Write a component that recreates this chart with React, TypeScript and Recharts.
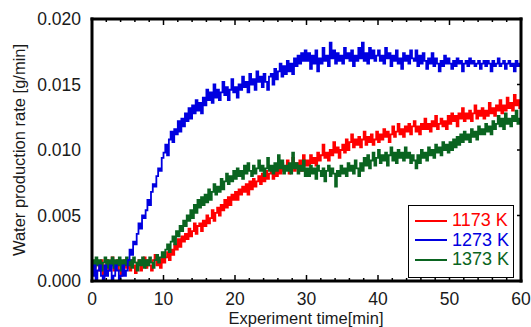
import React from "react";
import { LineChart, Line, XAxis, YAxis, Legend } from "recharts";

// logger sampled every 0.25 min, 0..60
const STEP_MIN = 0.25;

const rate1173 = [
  0.0012, 0.0008, 0.0016, 0.0012, 0.0008, 0.0016, 0.0004, 0.0012, 0.0016, 0.0008, 0.0012, 0.0018, 0.0008, 0.0012, 0.0016, 0.0008, 0.0004, 0.0012, 0.0016, 0.001,
  0.0012, 0.0008, 0.0016, 0.0012, 0.0006, 0.0014, 0.0016, 0.0008, 0.0012, 0.0018, 0.001, 0.0016, 0.0012, 0.0008, 0.0016, 0.002, 0.0012, 0.0016, 0.001, 0.0018,
  0.0014, 0.0018, 0.0022, 0.0016, 0.0024, 0.002, 0.0028, 0.0024, 0.0032, 0.0026, 0.0034, 0.003, 0.0036, 0.0032, 0.004, 0.0034, 0.0038, 0.0044, 0.0036, 0.0042,
  0.0044, 0.0038, 0.0046, 0.0042, 0.005, 0.0044, 0.0048, 0.0054, 0.0046, 0.0052, 0.0056, 0.005, 0.0058, 0.0054, 0.0062, 0.0056, 0.0064, 0.0058, 0.0066, 0.0062,
  0.0068, 0.0062, 0.007, 0.0066, 0.0072, 0.0068, 0.0074, 0.0066, 0.0076, 0.007, 0.0078, 0.0072, 0.0076, 0.008, 0.0074, 0.0082, 0.0076, 0.0084, 0.0078, 0.0082,
  0.0086, 0.0078, 0.0084, 0.008, 0.0088, 0.0082, 0.009, 0.0084, 0.0086, 0.0092, 0.0082, 0.0088, 0.0094, 0.0084, 0.009, 0.0086, 0.0092, 0.0084, 0.0096, 0.0088,
  0.0092, 0.0088, 0.0096, 0.009, 0.0094, 0.0088, 0.0098, 0.0092, 0.0096, 0.0104, 0.0094, 0.0098, 0.0092, 0.01, 0.0096, 0.0106, 0.0098, 0.0102, 0.0094, 0.01,
  0.0104, 0.0098, 0.0108, 0.01, 0.0106, 0.0112, 0.0102, 0.0108, 0.0104, 0.011, 0.0102, 0.0108, 0.0114, 0.0104, 0.011, 0.0106, 0.0112, 0.0104, 0.0108, 0.0114,
  0.0106, 0.0112, 0.0108, 0.0116, 0.011, 0.0114, 0.0106, 0.0112, 0.0118, 0.011, 0.0114, 0.012, 0.0112, 0.0116, 0.011, 0.0118, 0.0114, 0.012, 0.0112, 0.0118,
  0.0122, 0.0114, 0.0118, 0.0112, 0.012, 0.0116, 0.0124, 0.0116, 0.012, 0.0114, 0.0122, 0.0118, 0.0126, 0.0116, 0.012, 0.0124, 0.0118, 0.0122, 0.0116, 0.0126,
  0.012, 0.0128, 0.0122, 0.0126, 0.0118, 0.0128, 0.0124, 0.0132, 0.0122, 0.0128, 0.0124, 0.013, 0.0122, 0.0128, 0.0134, 0.0124, 0.013, 0.0126, 0.0132, 0.0124,
  0.013, 0.0126, 0.0136, 0.0128, 0.0132, 0.0126, 0.0134, 0.013, 0.0138, 0.0128, 0.0134, 0.013, 0.014, 0.0132, 0.0136, 0.013, 0.0142, 0.0134, 0.0138, 0.0132,
  0.0138,
];

const rate1273 = [
  0.0004, 0.0012, 0.0, 0.0008, 0.0012, 0.0004, 0.0, 0.0012, 0.0004, 0.0008, 0.0012, 0.0, 0.0004, 0.0012, 0.0008, 0.0, 0.0004, 0.0012, 0.0004, 0.0008,
  0.0016, 0.0024, 0.002, 0.003, 0.0028, 0.0036, 0.0044, 0.004, 0.005, 0.0048, 0.0054, 0.0062, 0.0058, 0.0068, 0.0074, 0.0072, 0.008, 0.0086, 0.0084, 0.0094,
  0.0098, 0.0104, 0.0096, 0.0108, 0.0114, 0.0106, 0.0116, 0.0112, 0.0122, 0.0114, 0.0124, 0.0118, 0.0128, 0.0122, 0.0132, 0.0124, 0.0134, 0.0128, 0.0138, 0.013,
  0.0136, 0.0128, 0.014, 0.0134, 0.0146, 0.0138, 0.0144, 0.0136, 0.015, 0.014, 0.0146, 0.0138, 0.0144, 0.0152, 0.0142, 0.0148, 0.0138, 0.0146, 0.0154, 0.0144,
  0.0148, 0.014, 0.015, 0.0146, 0.0156, 0.0148, 0.0152, 0.0144, 0.0158, 0.015, 0.0154, 0.0146, 0.016, 0.0152, 0.0156, 0.0148, 0.0158, 0.0152, 0.0146, 0.0156,
  0.0158, 0.015, 0.0162, 0.0154, 0.016, 0.0166, 0.0156, 0.0164, 0.0158, 0.0168, 0.016, 0.0166, 0.0158, 0.017, 0.0164, 0.0172, 0.0166, 0.0174, 0.0168, 0.0176,
  0.0168, 0.0174, 0.0162, 0.0172, 0.0166, 0.0176, 0.016, 0.017, 0.0166, 0.0178, 0.0168, 0.0172, 0.0164, 0.0182, 0.017, 0.0176, 0.0166, 0.0174, 0.0168, 0.0172,
  0.0166, 0.0178, 0.017, 0.0174, 0.0168, 0.0176, 0.0164, 0.0172, 0.0168, 0.0178, 0.017, 0.0182, 0.0168, 0.0174, 0.0166, 0.0178, 0.017, 0.0176, 0.0168, 0.0172,
  0.0176, 0.0168, 0.0172, 0.0166, 0.0178, 0.017, 0.0174, 0.0164, 0.0172, 0.0168, 0.0176, 0.0166, 0.017, 0.0162, 0.0174, 0.0168, 0.0172, 0.0166, 0.0176, 0.017,
  0.0168, 0.0176, 0.0164, 0.0172, 0.0166, 0.0174, 0.0168, 0.0162, 0.017, 0.0166, 0.0174, 0.0164, 0.017, 0.0166, 0.016, 0.0168, 0.0164, 0.0172, 0.0166, 0.017,
  0.0166, 0.0162, 0.0168, 0.0164, 0.017, 0.0166, 0.0168, 0.016, 0.0166, 0.0168, 0.0164, 0.017, 0.0166, 0.0168, 0.0164, 0.0166, 0.0168, 0.0162, 0.0166, 0.0168,
  0.0164, 0.0168, 0.0166, 0.016, 0.0168, 0.0164, 0.0166, 0.017, 0.0164, 0.0166, 0.0168, 0.0162, 0.0166, 0.0168, 0.0164, 0.0166, 0.016, 0.0168, 0.0164, 0.0166,
  0.0166,
];

const rate1373 = [
  0.0016, 0.001, 0.0018, 0.0012, 0.0016, 0.0008, 0.0014, 0.0018, 0.001, 0.0016, 0.0012, 0.0018, 0.001, 0.0016, 0.0012, 0.0018, 0.0008, 0.0016, 0.0012, 0.0018,
  0.0012, 0.0016, 0.001, 0.0018, 0.0014, 0.0008, 0.0016, 0.0012, 0.0018, 0.001, 0.0016, 0.0012, 0.0018, 0.0014, 0.001, 0.0016, 0.002, 0.0014, 0.0018, 0.0022,
  0.0018, 0.0024, 0.0028, 0.0022, 0.003, 0.0034, 0.0028, 0.0038, 0.0034, 0.0042, 0.0038, 0.0046, 0.0042, 0.005, 0.0046, 0.0054, 0.0048, 0.0058, 0.0052, 0.0062,
  0.0056, 0.0064, 0.0058, 0.0066, 0.006, 0.007, 0.0062, 0.0068, 0.0074, 0.0066, 0.0072, 0.0068, 0.0078, 0.007, 0.0076, 0.0082, 0.0074, 0.008, 0.0076, 0.0084,
  0.0078, 0.0086, 0.008, 0.0084, 0.0078, 0.0088, 0.0082, 0.009, 0.0084, 0.008, 0.0088, 0.0082, 0.0086, 0.0092, 0.0084, 0.0088, 0.008, 0.0086, 0.0094, 0.0084,
  0.0088, 0.0082, 0.009, 0.0084, 0.0096, 0.0086, 0.0092, 0.0082, 0.0088, 0.0084, 0.009, 0.0082, 0.0098, 0.0086, 0.009, 0.0082, 0.0088, 0.0084, 0.0092, 0.008,
  0.0086, 0.008, 0.0088, 0.0082, 0.0086, 0.0078, 0.0088, 0.0084, 0.008, 0.0086, 0.0076, 0.0084, 0.0088, 0.008, 0.0086, 0.0082, 0.0072, 0.0084, 0.008, 0.0088,
  0.0082, 0.0086, 0.008, 0.009, 0.0084, 0.0088, 0.0082, 0.0092, 0.0086, 0.008, 0.009, 0.0084, 0.0094, 0.0088, 0.0096, 0.0086, 0.0092, 0.0098, 0.0088, 0.0094,
  0.01, 0.009, 0.0096, 0.0092, 0.0098, 0.0088, 0.0096, 0.0102, 0.0092, 0.0098, 0.009, 0.01, 0.0094, 0.0098, 0.0092, 0.0102, 0.0094, 0.0098, 0.009, 0.0096,
  0.0092, 0.0086, 0.0096, 0.009, 0.01, 0.0094, 0.0098, 0.0092, 0.0102, 0.0096, 0.01, 0.0094, 0.0104, 0.0098, 0.0102, 0.0096, 0.0106, 0.01, 0.0104, 0.0098,
  0.0106, 0.01, 0.0108, 0.0102, 0.011, 0.0104, 0.0112, 0.0106, 0.0114, 0.0108, 0.0112, 0.0106, 0.0116, 0.011, 0.0114, 0.0108, 0.0118, 0.0112, 0.0116, 0.0112,
  0.012, 0.0114, 0.0118, 0.0112, 0.0122, 0.0116, 0.012, 0.0126, 0.0118, 0.0124, 0.0116, 0.0128, 0.012, 0.0124, 0.0118, 0.0126, 0.0122, 0.013, 0.012, 0.0124,
  0.0124,
];

const seriesNames = ["1173 K", "1273 K", "1373 K"];
const seriesColors = ["#ff0000", "#0000e0", "#0a6420"];

const xTicks = [
  0, 2, 4, 6, 8, 10, 12, 14, 16, 18, 20, 22, 24, 26, 28, 30, 32, 34, 36, 38, 40,
  42, 44, 46, 48, 50, 52, 54, 56, 58, 60,
];
const xLabelTicks = [0, 10, 20, 30, 40, 50, 60];
const yTicks = [0, 0.005, 0.01, 0.015, 0.02];

const data = rate1273.map((_, i) => ({
  t: i * STEP_MIN,
  r1173: rate1173[i],
  r1273: rate1273[i],
  r1373: rate1373[i],
}));

const FONT = "'Liberation Sans', Arial, sans-serif";

const XTick = (props: any) => {
  const { x, y, payload, side } = props;
  const v = payload.value;
  const major = xLabelTicks.includes(v);
  const len = major ? 6 : 3;
  const dir = side === "bottom" ? -1 : 1;
  return (
    <g>
      <line x1={x} y1={y} x2={x} y2={y + dir * len} stroke="#000" strokeWidth={1.5} />
      {side === "bottom" && major && (
        <text x={x} y={y + 24} textAnchor="middle" fontSize={17.5} fill="#1a1a1a" fontFamily={FONT}>
          {v}
        </text>
      )}
    </g>
  );
};

const YTick = (props: any) => {
  const { x, y, payload, side } = props;
  if (side === "right") {
    return <line x1={x} y1={y} x2={x - 4} y2={y} stroke="#000" strokeWidth={1.5} />;
  }
  return (
    <text x={x - 11} y={y} dy="0.36em" textAnchor="end" fontSize={17.5} fill="#1a1a1a" fontFamily={FONT}>
      {payload.value.toFixed(3)}
    </text>
  );
};

const LegendBox = () => (
  <div
    style={{
      width: 104,
      height: 66,
      border: "1px solid #000",
      background: "#fff",
      boxSizing: "content-box",
      paddingTop: 5,
    }}
  >
    {seriesNames.map((name, i) => (
      <div key={name} style={{ display: "flex", alignItems: "center", height: 19.5 }}>
        <div style={{ width: 32, height: 2, background: seriesColors[i], marginLeft: 6, marginRight: 5 }} />
        <span style={{ color: seriesColors[i], fontSize: 18, fontFamily: FONT, lineHeight: "19px" }}>{name}</span>
      </div>
    ))}
  </div>
);

const border = { stroke: "#000", strokeWidth: 3, strokeLinecap: "square" as const };

export default function App() {
  return (
    <div style={{ position: "absolute", left: 0, top: 0, width: 531, height: 327, background: "#fff" }}>
      <LineChart width={531} height={327} data={data} margin={{ top: 0, right: 0, bottom: 0, left: 0 }}>
        <XAxis
          xAxisId="bottom"
          dataKey="t"
          type="number"
          domain={[0, 60]}
          allowDataOverflow
          ticks={xTicks}
          interval={0}
          height={46}
          axisLine={border}
          tickLine={false}
          tickSize={0}
          tickMargin={0}
          tick={(p: any) => <XTick {...p} side="bottom" />}
          label={{
            content: () => (
              <text x={306} y={324} textAnchor="middle" fontSize={16.5} fill="#1a1a1a" fontFamily={FONT}>
                Experiment time[min]
              </text>
            ),
          }}
        />
        <XAxis
          xAxisId="top"
          orientation="top"
          dataKey="t"
          type="number"
          domain={[0, 60]}
          allowDataOverflow
          ticks={xTicks}
          interval={0}
          height={19}
          axisLine={border}
          tickLine={false}
          tickSize={0}
          tickMargin={0}
          tick={(p: any) => <XTick {...p} side="top" />}
        />
        <YAxis
          yAxisId="left"
          type="number"
          domain={[0, 0.02]}
          allowDataOverflow
          ticks={yTicks}
          interval={0}
          width={92}
          axisLine={border}
          tickLine={false}
          tickSize={0}
          tickMargin={0}
          tick={(p: any) => <YTick {...p} side="left" />}
          label={{
            content: () => (
              <text
                transform="translate(25,150) rotate(-90)"
                textAnchor="middle"
                fontSize={16.5}
                fill="#1a1a1a"
                fontFamily={FONT}
              >
                Water production rate [g/min]
              </text>
            ),
          }}
        />
        <YAxis
          yAxisId="right"
          orientation="right"
          type="number"
          domain={[0, 0.02]}
          allowDataOverflow
          ticks={yTicks}
          interval={0}
          width={10}
          axisLine={border}
          tickLine={false}
          tickSize={0}
          tickMargin={0}
          tick={(p: any) => <YTick {...p} side="right" />}
        />
        <Legend
          layout="horizontal"
          align="center"
          verticalAlign="middle"
          content={<LegendBox />}
          wrapperStyle={{ position: "absolute", left: 408, top: 205, width: 106, height: 72 }}
        />
        <Line
          xAxisId="bottom"
          yAxisId="left"
          type="stepAfter"
          dataKey="r1173"
          name={seriesNames[0]}
          stroke={seriesColors[0]}
          strokeWidth={1.8}
          dot={false}
          isAnimationActive={false}
        />
        <Line
          xAxisId="bottom"
          yAxisId="left"
          type="stepAfter"
          dataKey="r1373"
          name={seriesNames[2]}
          stroke={seriesColors[2]}
          strokeWidth={1.8}
          dot={false}
          isAnimationActive={false}
        />
        <Line
          xAxisId="bottom"
          yAxisId="left"
          type="stepAfter"
          dataKey="r1273"
          name={seriesNames[1]}
          stroke={seriesColors[1]}
          strokeWidth={1.8}
          dot={false}
          isAnimationActive={false}
        />
      </LineChart>
    </div>
  );
}
